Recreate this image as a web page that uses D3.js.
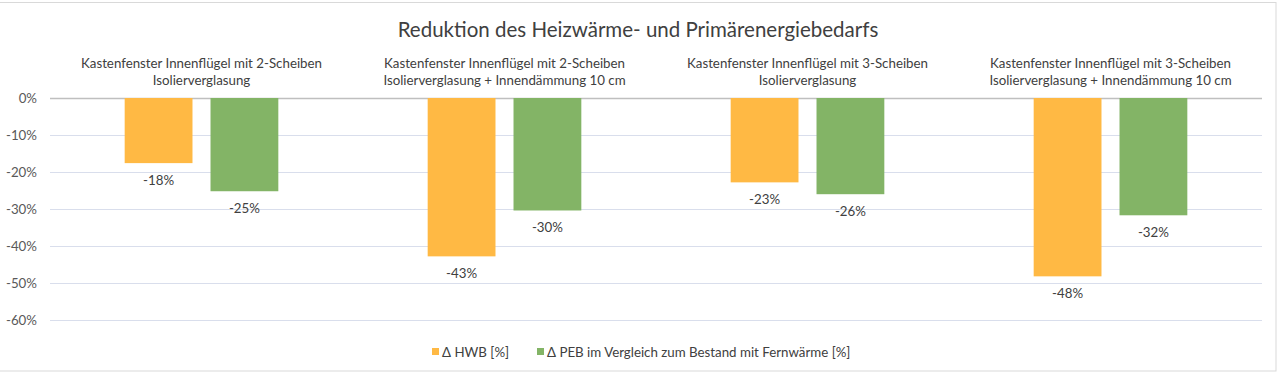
<!DOCTYPE html>
<html>
<head>
<meta charset="utf-8">
<script src="https://cdn.jsdelivr.net/npm/d3@7"></script>
<style>
  body { margin: 0; background: #fff; }
  text { font-family: "Lato", "Liberation Sans", sans-serif; }
</style>
</head>
<body>
<div id="chart"></div>
<script>
// Daten
const categories = [
  ['Kastenfenster Innenflügel mit 2-Scheiben', 'Isolierverglasung'],
  ['Kastenfenster Innenflügel mit 2-Scheiben', 'Isolierverglasung + Innendämmung 10 cm'],
  ['Kastenfenster Innenflügel mit 3-Scheiben', 'Isolierverglasung'],
  ['Kastenfenster Innenflügel mit 3-Scheiben', 'Isolierverglasung + Innendämmung 10 cm']
];
const seriesNames = ['Δ HWB [%]', 'Δ PEB im Vergleich zum Bestand mit Fernwärme [%]'];
const hwb = [-17.6, -42.8, -22.8, -48.2];
const peb = [-25.2, -30.4, -26.0, -31.7];
const yTicks = [0, -10, -20, -30, -40, -50, -60];
const colors = ['#FFB944', '#83B466'];

const width = 1280, height = 374;
const plot = { left: 50, right: 1262, top: 98, bottom: 320 };

const svg = d3.select('#chart')
  .append('svg')
  .attr('width', width)
  .attr('height', height);

// Rahmen
svg.append('rect')
  .attr('x', -1).attr('y', 2.5)
  .attr('width', 1277).attr('height', 368.5)
  .attr('fill', 'none')
  .attr('stroke', '#D9D9D9');

const x = d3.scaleBand()
  .domain(d3.range(categories.length))
  .range([plot.left, plot.right]);

const y = d3.scaleLinear()
  .domain([-60, 0])
  .range([plot.bottom, plot.top]);

// Gitterlinien
svg.selectAll('line.grid')
  .data(yTicks)
  .enter()
  .append('line')
  .attr('x1', plot.left).attr('x2', plot.right)
  .attr('y1', d => Math.round(y(d)) + 0.5)
  .attr('y2', d => Math.round(y(d)) + 0.5)
  .attr('stroke', d => d === 0 ? '#BFBFBF' : '#D9DEEC')
  .attr('stroke-width', d => d === 0 ? 1.5 : 1);

// Y-Achse
svg.selectAll('text.ytick')
  .data(yTicks)
  .enter()
  .append('text')
  .attr('x', 37)
  .attr('y', d => y(d))
  .attr('dy', '0.35em')
  .attr('text-anchor', 'end')
  .attr('fill', '#595959')
  .style('font-size', '13.3px')
  .text(d => d + '%');

// Balken
const inner = d3.scaleBand()
  .domain([0, 1])
  .range([0, x.bandwidth()])
  .paddingInner(0.21)
  .paddingOuter(0.87);

const rows = [];
categories.forEach((c, i) => {
  rows.push({ i, s: 0, v: hwb[i] });
  rows.push({ i, s: 1, v: peb[i] });
});

svg.selectAll('rect.bar')
  .data(rows)
  .enter()
  .append('rect')
  .attr('x', d => x(d.i) + inner(d.s))
  .attr('y', y(0))
  .attr('width', inner.bandwidth())
  .attr('height', d => y(d.v) - y(0))
  .attr('fill', d => colors[d.s]);

//	Datenbeschriftung unter dem Balken
svg.selectAll('text.val')
  .data(rows)
  .enter()
  .append('text')
  .attr('x', d => x(d.i) + inner(d.s) + inner.bandwidth() / 2)
  .attr('y', d => y(d.v) + 17)
  .attr('dy', '0.35em')
  .attr('text-anchor', 'middle')
  .attr('fill', '#404040')
  .style('font-size', '13.3px')
  .text(d => Math.round(d.v) + '%');

// Kategorien oben
categories.forEach((c, i) => {
  c.forEach((line, j) => {
    svg.append('text')
      .attr('x', x(i) + x.bandwidth() / 2)
      .attr('y', 63 + j * 17.5)
      .attr('dy', '0.35em')
      .attr('text-anchor', 'middle')
      .attr('fill', '#404040')
      .style('font-size', '13.3px')
      .text(line);
  });
});

// Titel
svg.append('text')
  .attr('x', 638)
  .attr('y', 30)
  .attr('dy', '0.35em')
  .attr('text-anchor', 'middle')
  .attr('fill', '#404040')
  .style('font-size', '20.5px')
  .text('Reduktion des Heizwärme- und Primärenergiebedarfs');

// Legende
const legendX = [432, 537];
seriesNames.forEach((name, k) => {
  svg.append('rect')
    .attr('x', legendX[k]).attr('y', 348)
    .attr('width', 7).attr('height', 7)
    .attr('fill', colors[k]);
  svg.append('text')
    .attr('x', legendX[k] + 10)
    .attr('y', 352)
    .attr('dy', '0.35em')
    .attr('fill', '#404040')
    .style('font-size', '13.3px')
    .text(name);
});
</script>
</body>
</html>
